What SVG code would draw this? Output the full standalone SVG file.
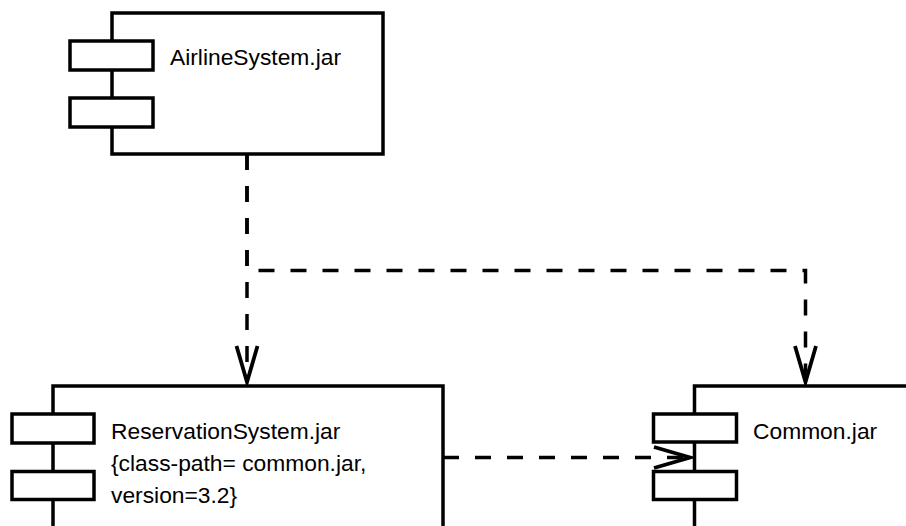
<svg xmlns="http://www.w3.org/2000/svg" width="906" height="526" viewBox="0 0 906 526">
  <style>
    .box { fill: #ffffff; stroke: #000000; stroke-width: 3.5; }
    .port { fill: #ffffff; stroke: #000000; stroke-width: 3.5; }
    .label { font-family: "Liberation Sans", Arial, sans-serif; font-size: 22.8px; fill: #000000; }
    .dep { fill: none; stroke: #000000; stroke-width: 3.5; stroke-dasharray: 16 16; marker-end: url(#open); }
  </style>
  <defs>
    <marker id="open" markerUnits="userSpaceOnUse" viewBox="-40 -14 44 28" refX="0" refY="0" markerWidth="44" markerHeight="28" orient="auto" overflow="visible">
      <path d="M-36,-10.5 L0,0 L-36,10.5" fill="none" stroke="#000000" stroke-width="3.8" stroke-linejoin="miter"/>
    </marker>
  </defs>
  <rect width="906" height="526" fill="#ffffff"/>

  <g id="connectors">
    <path class="dep" d="M247,154 V382"/>
    <path class="dep" d="M247,154 V270.5 H805.5 V382"/>
    <path class="dep" d="M443,457.5 H690"/>
  </g>

  <g id="airline">
    <rect class="box" x="112" y="13" width="271" height="141"/>
    <rect class="port" x="70" y="41" width="83" height="29"/>
    <rect class="port" x="70" y="98" width="83" height="29"/>
    <text class="label" x="170" y="65">AirlineSystem.jar</text>
  </g>

  <g id="reservation">
    <rect class="box" x="53" y="386" width="390" height="200"/>
    <rect class="port" x="12" y="414" width="82" height="29"/>
    <rect class="port" x="12" y="471.5" width="82" height="28"/>
    <text class="label" x="111" y="439">ReservationSystem.jar</text>
    <text class="label" x="111" y="471">{class-path= common.jar,</text>
    <text class="label" x="111" y="503">version=3.2}</text>
  </g>

  <g id="common">
    <rect class="box" x="694.5" y="386" width="300" height="200"/>
    <rect class="port" x="653.5" y="414" width="83" height="28"/>
    <rect class="port" x="653.5" y="471.5" width="83" height="28"/>
    <text class="label" x="753" y="439">Common.jar</text>
  </g>
</svg>
